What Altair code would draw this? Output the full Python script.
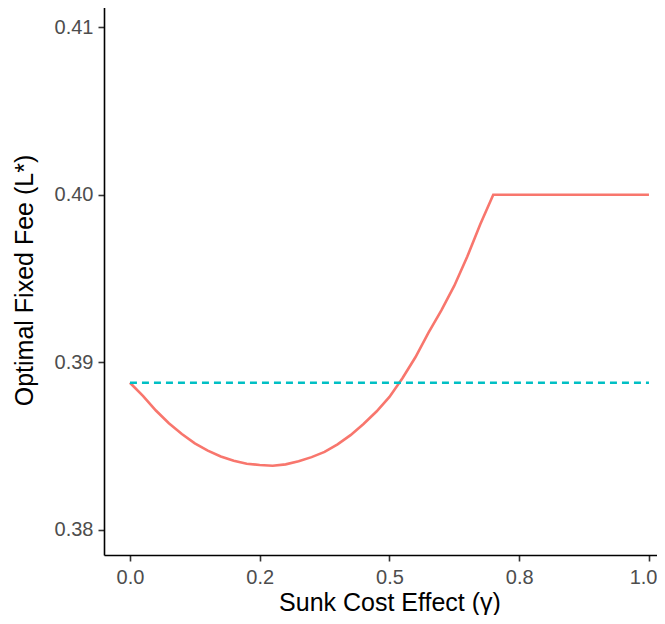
import altair as alt
import pandas as pd

# Red curve: optimal fixed fee vs sunk cost effect
gamma = [0.000, 0.025, 0.050, 0.075, 0.100, 0.125, 0.150, 0.175, 0.200, 0.225,
         0.250, 0.275, 0.300, 0.325, 0.350, 0.375, 0.400, 0.425, 0.450, 0.475,
         0.500, 0.525, 0.550, 0.575, 0.600, 0.625, 0.650, 0.675, 0.700, 0.800,
         0.900, 1.000]
fee = [0.38878, 0.38800, 0.38712, 0.38636, 0.38572, 0.38516, 0.38473, 0.38438,
       0.38412, 0.38395, 0.38387, 0.38383, 0.38391, 0.38409, 0.38434, 0.38465,
       0.38510, 0.38565, 0.38632, 0.38706, 0.38793, 0.38905, 0.39030, 0.39176,
       0.39310, 0.39457, 0.39631, 0.39824, 0.40000, 0.40000, 0.40000, 0.40000]

# Teal dashed benchmark
bench_gamma = [0.0, 1.0]
bench_fee = [0.38878, 0.38878]

x_ticks = [0.0, 0.25, 0.5, 0.75, 1.0]
x_tick_labels = ["0.0", "0.2", "0.5", "0.8", "1.0"]
y_ticks = [0.38, 0.39, 0.40, 0.41]

curve = pd.DataFrame({"gamma": gamma, "fee": fee})
bench = pd.DataFrame({"gamma": bench_gamma, "fee": bench_fee})

label_expr = ""
for v, l in zip(x_ticks, x_tick_labels):
    label_expr += f"abs(datum.value - {v}) < 1e-6 ? '{l}' : "
label_expr += "''"

FONT = "Liberation Sans"

xscale = alt.Scale(domain=[-0.05, 1.0155], nice=False, zero=False)
yscale = alt.Scale(domain=[0.3785, 0.4115], nice=False, zero=False)

common_axis = dict(
    grid=False, domainColor="black", domainWidth=1.6,
    tickColor="#333333", tickWidth=1.6, tickSize=6,
    labelFont=FONT, labelFontSize=20, labelColor="#4D4D4D",
    titleFont=FONT, titleFontSize=25, titleFontWeight="normal", titleColor="black",
    labelOverlap=False, labelFlush=False,
)

xaxis = alt.Axis(
    values=x_ticks, labelExpr=label_expr, title="Sunk Cost Effect (γ)",
    labelPadding=6, titleX=285.5, titleY=55, titleBaseline="alphabetic",
    titleAlign="center",
    labelAlign={"condition": {"test": "datum.value >= 0.999", "value": "right"}, "value": "center"},
    labelOffset={"condition": {"test": "datum.value >= 0.999", "value": 8}, "value": 0},
    **common_axis,
)
yaxis = alt.Axis(values=y_ticks, format=".2f", title="Optimal Fixed Fee (L*)",
                 labelPadding=5, titleAngle=270, titleX=-72, titleY=278,
                 titleBaseline="alphabetic", titleAlign="center", **common_axis)

red = alt.Chart(curve).mark_line(color="#F8766D", strokeWidth=2.6, strokeCap="butt").encode(
    x=alt.X("gamma:Q", scale=xscale, axis=xaxis),
    y=alt.Y("fee:Q", scale=yscale, axis=yaxis),
)

teal = alt.Chart(bench).mark_line(color="#00BFC4", strokeWidth=2.6, strokeDash=[7, 5],
                                  strokeCap="butt").encode(
    x=alt.X("gamma:Q", scale=xscale),
    y=alt.Y("fee:Q", scale=yscale),
)

chart = alt.layer(red, teal).properties(
    width=553, height=553,
    autosize=alt.AutoSizeParams(type="none"),
    padding={"left": 96, "top": -6, "right": 0, "bottom": 60},
    background="white",
).configure_view(stroke=None)

chart.save("out.html", embed_options={"renderer": "svg", "actions": False})
